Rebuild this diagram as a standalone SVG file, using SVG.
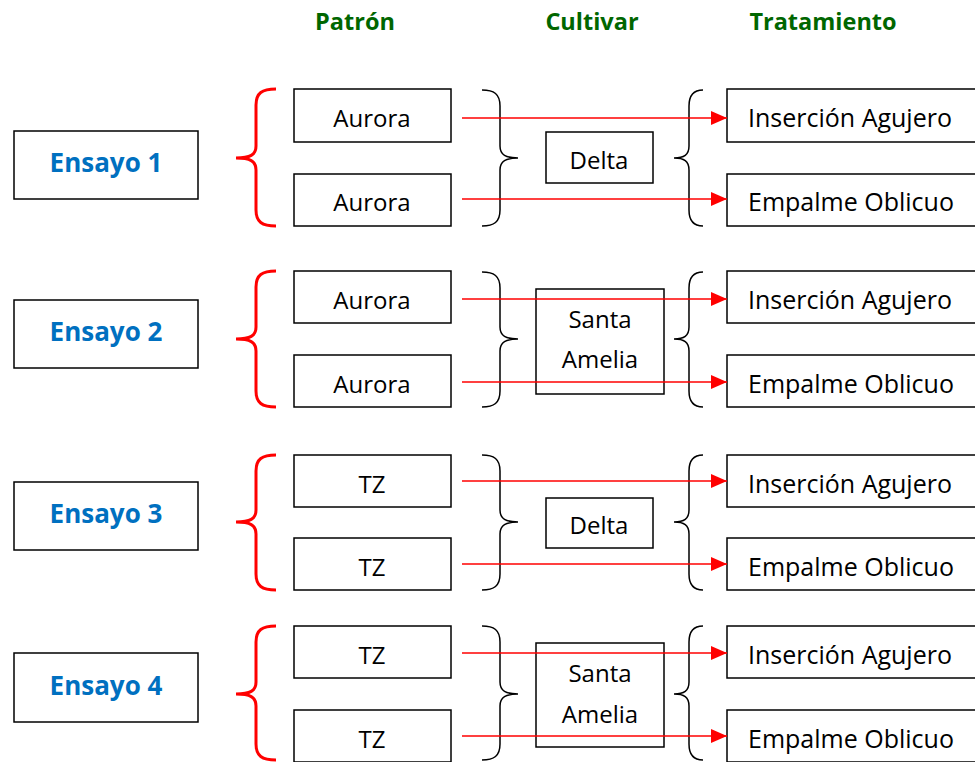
<svg xmlns="http://www.w3.org/2000/svg" width="975" height="762" viewBox="0 0 975 762">
<defs>
<style>
.box{fill:#fff;stroke:#000;stroke-width:1.5}
.t{font-family:"Open Sans","Liberation Sans",sans-serif;font-size:24px;fill:#000;text-anchor:middle}
.tl{font-family:"Open Sans","Liberation Sans",sans-serif;font-size:25px;fill:#000}
.hd{font-family:"Open Sans","Liberation Sans",sans-serif;font-size:23.5px;font-weight:bold;fill:#006600;text-anchor:middle}
.en{font-family:"Open Sans","Liberation Sans",sans-serif;font-size:26px;font-weight:bold;fill:#0070C0;text-anchor:middle}
.rb{fill:none;stroke:#ff0000;stroke-width:3}
.bb{fill:none;stroke:#000;stroke-width:1.5}
.ar{fill:none;stroke:#ff0000;stroke-width:1.5}
</style>
<marker id="ah" markerWidth="16" markerHeight="14" refX="16" refY="7" orient="auto" markerUnits="userSpaceOnUse">
<path d="M0,0 L16,7 L0,14 Z" fill="#ff0000"/>
</marker>
</defs>
<rect width="975" height="762" fill="#fff"/>
<g id="headers">
<text class="hd" x="355" y="30">Patrón</text>
<text class="hd" x="592" y="30">Cultivar</text>
<text class="hd" x="823" y="30">Tratamiento</text>
</g>

<!-- Block 1 -->
<g id="ensayo1"><rect class="box" x="14" y="131" width="184" height="68"/><text class="en" x="106" y="172">Ensayo 1</text></g>
<g id="patron1a"><rect class="box" x="294" y="89" width="157" height="53"/><text class="t" x="372" y="127">Aurora</text></g>
<g id="patron1b"><rect class="box" x="294" y="174" width="157" height="52"/><text class="t" x="372" y="211">Aurora</text></g>
<g id="cult1"><rect class="box" x="546" y="132" width="107" height="51"/><text class="t" x="599" y="169">Delta</text></g>
<g id="trat1a"><rect class="box" x="727" y="89" width="260" height="53"/><text class="tl" x="748" y="127">Inserción Agujero</text></g>
<g id="trat1b"><rect class="box" x="727" y="174" width="260" height="52"/><text class="tl" x="748" y="211">Empalme Oblicuo</text></g>

<!-- Block 2 -->
<g id="ensayo2"><rect class="box" x="14" y="300" width="184" height="68"/><text class="en" x="106" y="341">Ensayo 2</text></g>
<g id="patron2a"><rect class="box" x="294" y="271" width="157" height="52"/><text class="t" x="372" y="309">Aurora</text></g>
<g id="patron2b"><rect class="box" x="294" y="355" width="157" height="52"/><text class="t" x="372" y="393">Aurora</text></g>
<g id="cult2"><rect class="box" x="536" y="289" width="128" height="105"/><text class="t" x="600" y="328">Santa</text><text class="t" x="600" y="368">Amelia</text></g>
<g id="trat2a"><rect class="box" x="727" y="271" width="260" height="52"/><text class="tl" x="748" y="309">Inserción Agujero</text></g>
<g id="trat2b"><rect class="box" x="727" y="355" width="260" height="52"/><text class="tl" x="748" y="393">Empalme Oblicuo</text></g>

<!-- Block 3 -->
<g id="ensayo3"><rect class="box" x="14" y="482" width="184" height="68"/><text class="en" x="106" y="523">Ensayo 3</text></g>
<g id="patron3a"><rect class="box" x="294" y="455" width="157" height="52"/><text class="t" x="372" y="493">TZ</text></g>
<g id="patron3b"><rect class="box" x="294" y="538" width="157" height="52"/><text class="t" x="372" y="576">TZ</text></g>
<g id="cult3"><rect class="box" x="546" y="498" width="107" height="50"/><text class="t" x="599" y="534">Delta</text></g>
<g id="trat3a"><rect class="box" x="727" y="455" width="260" height="52"/><text class="tl" x="748" y="493">Inserción Agujero</text></g>
<g id="trat3b"><rect class="box" x="727" y="538" width="260" height="52"/><text class="tl" x="748" y="576">Empalme Oblicuo</text></g>

<!-- Block 4 -->
<g id="ensayo4"><rect class="box" x="14" y="653" width="184" height="69"/><text class="en" x="106" y="695">Ensayo 4</text></g>
<g id="patron4a"><rect class="box" x="294" y="626" width="157" height="52"/><text class="t" x="372" y="664">TZ</text></g>
<g id="patron4b"><rect class="box" x="294" y="710" width="157" height="52"/><text class="t" x="372" y="748">TZ</text></g>
<g id="cult4"><rect class="box" x="536" y="643" width="128" height="104"/><text class="t" x="600" y="682">Santa</text><text class="t" x="600" y="723">Amelia</text></g>
<g id="trat4a"><rect class="box" x="727" y="626" width="260" height="52"/><text class="tl" x="748" y="664">Inserción Agujero</text></g>
<g id="trat4b"><rect class="box" x="727" y="710" width="260" height="52"/><text class="tl" x="748" y="748">Empalme Oblicuo</text></g>

<g id="braces">
<path class="rb" d="M276,89 C262,89 256,93 256,105 L256,146 C256,155 250,158 236,158 C250,158 256,161 256,170 L256,210 C256,222 262,226 276,226"/>
<path class="rb" d="M276,271 C262,271 256,275 256,287 L256,327 C256,336 250,339 236,339 C250,339 256,342 256,351 L256,391 C256,403 262,407 276,407"/>
<path class="rb" d="M276,455 C262,455 256,459 256,471 L256,510 C256,519 250,522 236,522 C250,522 256,525 256,534 L256,574 C256,586 262,590 276,590"/>
<path class="rb" d="M276,626 C262,626 256,630 256,642 L256,682 C256,691 250,694 236,694 C250,694 256,697 256,706 L256,744 C256,756 262,760 276,760"/>
<path class="bb" d="M482,90 C494,90 500,94 500,106 L500,146 C500,155 506,158 518,158 C506,158 500,161 500,170 L500,210 C500,222 494,226 482,226"/>
<path class="bb" d="M482,272 C494,272 500,276 500,288 L500,327 C500,336 506,339 518,339 C506,339 500,342 500,351 L500,391 C500,403 494,407 482,407"/>
<path class="bb" d="M482,455 C494,455 500,459 500,471 L500,510 C500,519 506,522 518,522 C506,522 500,525 500,534 L500,574 C500,586 494,590 482,590"/>
<path class="bb" d="M482,626 C494,626 500,630 500,642 L500,682 C500,691 506,694 518,694 C506,694 500,697 500,706 L500,744 C500,756 494,760 482,760"/>
<path class="bb" d="M703,90 C695,90 689,94 689,106 L689,146 C689,155 684,158 674,158 C684,158 689,161 689,170 L689,210 C689,222 695,226 703,226"/>
<path class="bb" d="M703,272 C695,272 689,276 689,288 L689,327 C689,336 684,339 674,339 C684,339 689,342 689,351 L689,391 C689,403 695,407 703,407"/>
<path class="bb" d="M703,455 C695,455 689,459 689,471 L689,510 C689,519 684,522 674,522 C684,522 689,525 689,534 L689,574 C689,586 695,590 703,590"/>
<path class="bb" d="M703,626 C695,626 689,630 689,642 L689,682 C689,691 684,694 674,694 C684,694 689,697 689,706 L689,744 C689,756 695,760 703,760"/>
</g>

<g id="connectors">
<line class="ar" x1="462" y1="118" x2="727" y2="118" marker-end="url(#ah)"/>
<line class="ar" x1="462" y1="199" x2="727" y2="199" marker-end="url(#ah)"/>
<line class="ar" x1="462" y1="299" x2="727" y2="299" marker-end="url(#ah)"/>
<line class="ar" x1="462" y1="382" x2="727" y2="382" marker-end="url(#ah)"/>
<line class="ar" x1="462" y1="481" x2="727" y2="481" marker-end="url(#ah)"/>
<line class="ar" x1="462" y1="564" x2="727" y2="564" marker-end="url(#ah)"/>
<line class="ar" x1="462" y1="653" x2="727" y2="653" marker-end="url(#ah)"/>
<line class="ar" x1="462" y1="736" x2="727" y2="736" marker-end="url(#ah)"/>
</g>
</svg>
